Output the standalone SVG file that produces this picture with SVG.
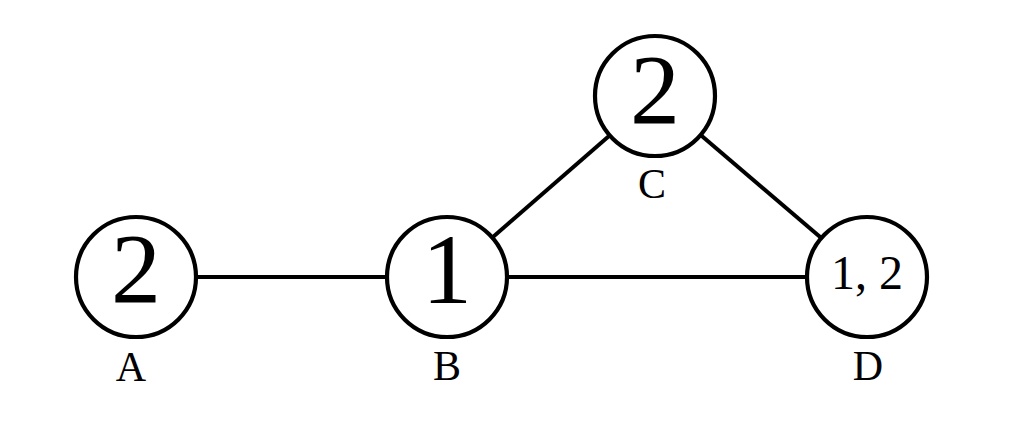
<svg xmlns="http://www.w3.org/2000/svg" width="1024" height="446" viewBox="0 0 1024 446">
<style>
.edge{stroke:#000;stroke-width:4;fill:none}
.node circle{fill:#fff;stroke:#000;stroke-width:4.2}
.val{font-family:"Liberation Serif",serif;text-anchor:middle;fill:#000}
.lbl{font-family:"Liberation Serif",serif;font-size:42px;text-anchor:middle;fill:#000}
</style>
<rect width="1024" height="446" fill="#fff"/>
<g id="connectors">
<line class="edge" x1="136" y1="277" x2="447" y2="277"/>
<line class="edge" x1="447" y1="277" x2="867" y2="277"/>
<line class="edge" x1="447" y1="277" x2="655" y2="96"/>
<line class="edge" x1="655" y1="96" x2="867" y2="277"/>
</g>
<g id="A" class="node">
<circle cx="136" cy="277" r="60"/>
<text class="val" x="136" y="302" font-size="100">2</text>
<text class="lbl" x="131" y="381">A</text>
</g>
<g id="B" class="node">
<circle cx="447" cy="277" r="60"/>
<text class="val" x="447" y="303" font-size="100">1</text>
<text class="lbl" x="447" y="380">B</text>
</g>
<g id="C" class="node">
<circle cx="655" cy="96" r="60"/>
<text class="val" x="655" y="123" font-size="100">2</text>
<text class="lbl" x="652" y="198">C</text>
</g>
<g id="D" class="node">
<circle cx="867" cy="277" r="60"/>
<text class="val" x="867" y="289" font-size="48">1, 2</text>
<text class="lbl" x="868" y="380">D</text>
</g>
</svg>
